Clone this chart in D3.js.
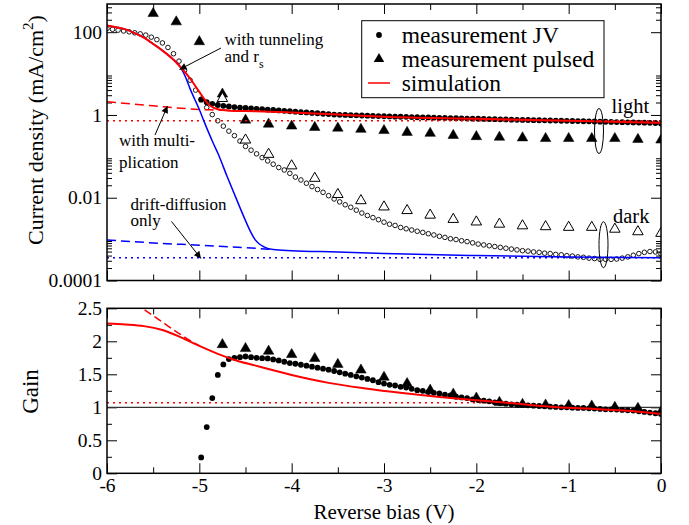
<!DOCTYPE html>
<html><head><meta charset="utf-8">
<script src="https://cdn.jsdelivr.net/npm/d3@7"></script>
<style>
body{margin:0;background:#fff}
svg{display:block}
text{font-family:"Liberation Serif","Times New Roman",serif;fill:#000}
</style>
</head><body>
<svg id="c" width="689" height="525"></svg>
<script>
// ---------- DATA ----------
// Top panel: current density (mA/cm^2) vs voltage (V)
const lightJV = [[-4.98,2.34],[-4.92,2.04],[-4.86,1.86],[-4.80,1.74],[-4.74,1.66],[-4.68,1.60],[-4.62,1.55],[-4.56,1.51],[-4.50,1.48],[-4.44,1.45],[-4.38,1.41],[-4.32,1.38],[-4.26,1.35],[-4.20,1.32],[-4.14,1.29],[-4.08,1.26],[-4.02,1.23],[-3.96,1.20],[-3.90,1.17],[-3.84,1.15],[-3.78,1.12],[-3.72,1.10],[-3.66,1.07],[-3.60,1.05],[-3.54,1.02],[-3.48,1.01],[-3.42,1.00],[-3.36,0.99],[-3.30,0.98],[-3.24,0.97],[-3.18,0.96],[-3.12,0.95],[-3.06,0.94],[-3.00,0.93],[-2.94,0.92],[-2.88,0.91],[-2.82,0.905],[-2.76,0.90],[-2.70,0.89],[-2.64,0.88],[-2.58,0.875],[-2.52,0.87],[-2.46,0.86],[-2.40,0.855],[-2.34,0.85],[-2.28,0.84],[-2.22,0.835],[-2.16,0.83],[-2.10,0.82],[-2.04,0.815],[-1.98,0.81],[-1.92,0.80],[-1.86,0.795],[-1.80,0.79],[-1.74,0.785],[-1.68,0.78],[-1.62,0.77],[-1.56,0.765],[-1.50,0.76],[-1.44,0.755],[-1.38,0.75],[-1.32,0.745],[-1.26,0.74],[-1.20,0.735],[-1.14,0.73],[-1.08,0.725],[-1.02,0.72],[-0.96,0.715],[-0.90,0.71],[-0.84,0.705],[-0.78,0.70],[-0.72,0.695],[-0.66,0.69],[-0.60,0.685],[-0.54,0.68],[-0.48,0.675],[-0.42,0.67],[-0.36,0.665],[-0.30,0.66],[-0.24,0.655],[-0.18,0.65],[-0.12,0.645],[-0.06,0.64],[0.00,0.62]];

const darkJV = [[-6.00,123],[-5.94,117.5],[-5.88,112],[-5.82,107],[-5.76,102],[-5.70,96.6],[-5.64,91.2],[-5.58,85.1],[-5.52,75.9],[-5.46,66.1],[-5.40,55.0],[-5.34,42.7],[-5.28,30.2],[-5.22,20.0],[-5.16,12.0],[-5.10,6.92],[-5.04,3.98],[-4.98,2.40],[-4.92,1.51],[-4.86,1.02],[-4.80,0.724],[-4.74,0.537],[-4.68,0.407],[-4.62,0.316],[-4.56,0.234],[-4.50,0.174],[-4.44,0.141],[-4.38,0.115],[-4.32,0.0933],[-4.26,0.0776],[-4.20,0.0646],[-4.14,0.0537],[-4.08,0.0468],[-4.02,0.0389],[-3.96,0.0316],[-3.90,0.0269],[-3.84,0.0224],[-3.78,0.0186],[-3.72,0.0158],[-3.66,0.0135],[-3.60,0.0112],[-3.54,0.00933],[-3.48,0.00794],[-3.42,0.00676],[-3.36,0.00589],[-3.30,0.00501],[-3.24,0.00427],[-3.18,0.00372],[-3.12,0.00331],[-3.06,0.00295],[-3.00,0.00257],[-2.94,0.00229],[-2.88,0.00214],[-2.82,0.00191],[-2.76,0.00178],[-2.70,0.00166],[-2.64,0.00155],[-2.58,0.00145],[-2.52,0.00135],[-2.46,0.00126],[-2.40,0.00117],[-2.34,0.00110],[-2.28,0.00102],[-2.22,0.000977],[-2.16,0.000912],[-2.10,0.000871],[-2.04,0.000813],[-1.98,0.000759],[-1.92,0.000724],[-1.86,0.000692],[-1.80,0.000661],[-1.74,0.000631],[-1.68,0.000603],[-1.62,0.000575],[-1.56,0.000550],[-1.50,0.000525],[-1.44,0.000513],[-1.38,0.000490],[-1.32,0.000479],[-1.26,0.000457],[-1.20,0.000447],[-1.14,0.000427],[-1.08,0.000417],[-1.02,0.000398],[-0.96,0.000389],[-0.90,0.000372],[-0.84,0.000363],[-0.78,0.000347],[-0.72,0.000339],[-0.66,0.000324],[-0.60,0.000324],[-0.54,0.000324],[-0.48,0.000331],[-0.42,0.000347],[-0.36,0.000372],[-0.30,0.000407],[-0.24,0.000447],[-0.18,0.000479],[-0.12,0.000501],[-0.06,0.000490],[0.00,0.000437]];

const lightPulsed = [[-5.5,283],[-5.25,178],[-5.0,59],[-4.75,3.2],[-4.5,0.75],[-4.25,0.60],[-4.0,0.54],[-3.75,0.50],[-3.5,0.48],[-3.25,0.45],[-3.0,0.42],[-2.75,0.38],[-2.5,0.36],[-2.25,0.32],[-2.0,0.30],[-1.75,0.29],[-1.5,0.28],[-1.25,0.27],[-1.0,0.27],[-0.75,0.27],[-0.5,0.27],[-0.25,0.257],[0.0,0.248]];

const darkPulsed = [[-4.75,2.5],[-4.5,0.248],[-4.25,0.112],[-4.0,0.059],[-3.75,0.0295],[-3.5,0.012],[-3.25,0.0085],[-3.0,0.0060],[-2.75,0.0049],[-2.5,0.0038],[-2.25,0.0030],[-2.0,0.0026],[-1.75,0.0023],[-1.5,0.0021],[-1.25,0.0020],[-1.0,0.00193],[-0.75,0.00193],[-0.5,0.00174],[-0.25,0.00151],[0.0,0.00138]];

// simulations (top panel)
const simLight = [[-6.0,145],[-5.9,132],[-5.8,117],[-5.7,95],[-5.6,74],[-5.5,52],[-5.4,36],[-5.3,23.7],[-5.2,14],[-5.1,7.6],[-5.0,3.6],[-4.95,2.5],[-4.9,1.8],[-4.85,1.5],[-4.8,1.38],[-4.7,1.29],[-4.5,1.245],[-4.3,1.22],[-4.0,1.15],[-3.5,1.02],[-3.0,0.91],[-2.0,0.81],[-1.0,0.72],[0.0,0.645]];
const simLightMultOnly = [[-6.0,2.09],[-5.5,1.66],[-5.0,1.36],[-4.8,1.31],[-4.6,1.26],[-4.5,1.245]];
const simLightDD = [[-6.0,0.72],[0.0,0.72]];
const simDark = [[-6.0,145],[-5.9,132],[-5.8,117],[-5.7,95],[-5.6,74],[-5.5,52],[-5.4,36],[-5.3,23.7],[-5.2,14],[-5.15,8.3],[-5.1,4.27],[-5.05,2.4],[-5.0,1.35],[-4.95,0.71],[-4.9,0.38],[-4.85,0.21],[-4.8,0.12],[-4.7,0.033],[-4.6,0.0095],[-4.5,0.0028],[-4.45,0.00158],[-4.4,0.001],[-4.35,0.00076],[-4.3,0.00065],[-4.2,0.00056],[-4.0,0.000525],[-3.5,0.00049],[-3.0,0.000447],[-2.0,0.0004],[-1.0,0.00037],[0.0,0.000355]];
const simDarkMultOnly = [[-6.0,0.00095],[-5.5,0.00081],[-5.0,0.00071],[-4.5,0.00062],[-4.2,0.00056]];
const simDarkDD = [[-6.0,0.000355],[0.0,0.000355]];

// Bottom panel: gain
const gainJV = [[-4.98,0.24],[-4.92,0.70],[-4.86,1.14],[-4.80,1.49],[-4.74,1.65],[-4.68,1.73],[-4.62,1.75],[-4.56,1.76],[-4.50,1.77],[-4.44,1.76],[-4.38,1.75],[-4.32,1.745],[-4.26,1.74],[-4.20,1.725],[-4.14,1.71],[-4.08,1.69],[-4.02,1.67],[-3.96,1.66],[-3.90,1.645],[-3.84,1.63],[-3.78,1.615],[-3.72,1.60],[-3.66,1.585],[-3.60,1.57],[-3.54,1.55],[-3.48,1.53],[-3.42,1.51],[-3.36,1.49],[-3.30,1.47],[-3.24,1.45],[-3.18,1.43],[-3.12,1.41],[-3.06,1.38],[-3.00,1.36],[-2.94,1.34],[-2.88,1.33],[-2.82,1.31],[-2.76,1.30],[-2.70,1.28],[-2.64,1.26],[-2.58,1.25],[-2.52,1.23],[-2.46,1.22],[-2.40,1.21],[-2.34,1.19],[-2.28,1.18],[-2.22,1.16],[-2.16,1.15],[-2.10,1.14],[-2.04,1.12],[-1.98,1.11],[-1.92,1.10],[-1.86,1.09],[-1.80,1.075],[-1.74,1.065],[-1.68,1.055],[-1.62,1.045],[-1.56,1.04],[-1.50,1.035],[-1.44,1.03],[-1.38,1.025],[-1.32,1.02],[-1.26,1.015],[-1.20,1.01],[-1.14,1.005],[-1.08,1.0],[-1.02,1.0],[-0.96,0.995],[-0.90,0.99],[-0.84,0.99],[-0.78,0.985],[-0.72,0.98],[-0.66,0.975],[-0.60,0.97],[-0.54,0.97],[-0.48,0.965],[-0.42,0.96],[-0.36,0.955],[-0.30,0.95],[-0.24,0.94],[-0.18,0.93],[-0.12,0.92],[-0.06,0.91],[0.00,0.90]];
const gainPulsed = [[-4.75,1.95],[-4.5,1.89],[-4.25,1.85],[-4.0,1.80],[-3.75,1.74],[-3.5,1.65],[-3.25,1.565],[-3.0,1.455],[-2.75,1.36],[-2.5,1.26],[-2.25,1.20],[-2.0,1.14],[-1.75,1.075],[-1.5,1.045],[-1.25,1.035],[-1.0,1.025],[-0.75,1.02],[-0.5,1.0],[-0.25,0.985],[0.0,0.93]];
const gainSim = [[-6.0,2.27],[-5.8,2.255],[-5.6,2.23],[-5.4,2.17],[-5.2,2.06],[-5.0,1.93],[-4.8,1.81],[-4.6,1.71],[-4.4,1.635],[-4.2,1.56],[-4.0,1.49],[-3.6,1.37],[-3.2,1.285],[-2.8,1.215],[-2.4,1.155],[-2.0,1.105],[-1.6,1.06],[-1.2,1.01],[-0.8,0.98],[-0.4,0.95],[0.0,0.90]];
const gainSimMultOnly = [[-5.7,2.58],[-5.4,2.29],[-5.2,2.10],[-5.1,2.01],[-5.0,1.935]];
const gainSimDD = [[-6.0,1.07],[-1.6,1.07]];
const gainUnity = [[-6.0,1.0],[0.0,1.0]];

// ticks and labels
const xMajor = [-6,-5,-4,-3,-2,-1,0];
const xMinor = [-5.5,-4.5,-3.5,-2.5,-1.5,-0.5];
const jMajor = [1e-4,1e-2,1,100];
const jMajorLabels = ["0.0001","0.01","1","100"];
const gMajor = [0,0.5,1,1.5,2,2.5];
const gMinor = [0.25,0.75,1.25,1.75,2.25];
const legendLabels = ["measurement JV","measurement pulsed","simulation"];

// ---------- CHART ----------
(function(){
const svg = d3.select("#c");
const X0 = 107, X1 = 661;
const T0 = 4, T1 = 280.5, B0 = 308.3, B1 = 473.3;
const x = d3.scaleLinear().domain([-6,0]).range([X0,X1]);
const yJ = d3.scaleLog().domain([1e-4,480]).range([T1,T0]);
const yG = d3.scaleLinear().domain([0,2.5]).range([B1,B0]);
const RED = "#ff0000", BLUE = "#0000ff";

const jMinor = [];
jMajor.forEach(m => { for (let k=2;k<=9;k++){ const v=k*m; if (v<480) jMinor.push(v);} });

const defs = svg.append("defs");
defs.append("clipPath").attr("id","clipT").append("rect").attr("x",X0).attr("y",T0).attr("width",X1-X0).attr("height",T1-T0);
defs.append("clipPath").attr("id","clipB").append("rect").attr("x",X0).attr("y",B0).attr("width",X1-X0).attr("height",B1-B0);
defs.append("marker").attr("id","arr").attr("viewBox","0 0 10 10").attr("refX",10).attr("refY",5)
  .attr("markerUnits","userSpaceOnUse").attr("markerWidth",9).attr("markerHeight",7).attr("orient","auto")
  .append("path").attr("d","M0,0L10,5L0,10z").attr("fill","#000");

function style(g, size){
  g.attr("font-size",size).attr("font-family","Liberation Serif");
  g.select(".domain").remove();
  g.selectAll(".tick line").attr("stroke","#000").attr("stroke-width",1);
}

function xAxes(yb, yt, labels){
  svg.append("g").attr("transform",`translate(0,${yb})`)
    .call(d3.axisBottom(x).tickValues(xMajor).tickSize(-10).tickPadding(5).tickFormat(labels ? (d=>String(d)) : ""))
    .call(g=>style(g,19.5));
  svg.append("g").attr("transform",`translate(0,${yb})`)
    .call(d3.axisBottom(x).tickValues(xMinor).tickSize(-6).tickFormat("")).call(g=>style(g,19.5));
  svg.append("g").attr("transform",`translate(0,${yt})`)
    .call(d3.axisTop(x).tickValues(xMajor).tickSize(-10).tickFormat("")).call(g=>style(g,19.5));
  svg.append("g").attr("transform",`translate(0,${yt})`)
    .call(d3.axisTop(x).tickValues(xMinor).tickSize(-6).tickFormat("")).call(g=>style(g,19.5));
}
xAxes(T1, T0, false);
xAxes(B1, B0, true);

svg.append("g").attr("transform",`translate(${X0},0)`)
  .call(d3.axisLeft(yJ).tickValues(jMajor).tickSize(-10).tickPadding(5).tickFormat((d,i)=>jMajorLabels[i]))
  .call(g=>style(g,19.5));
svg.append("g").attr("transform",`translate(${X0},0)`)
  .call(d3.axisLeft(yJ).tickValues(jMinor).tickSize(-5).tickFormat("")).call(g=>style(g,19.5));
svg.append("g").attr("transform",`translate(${X1},0)`)
  .call(d3.axisRight(yJ).tickValues(jMajor).tickSize(-10).tickFormat("")).call(g=>style(g,19.5));
svg.append("g").attr("transform",`translate(${X1},0)`)
  .call(d3.axisRight(yJ).tickValues(jMinor).tickSize(-5).tickFormat("")).call(g=>style(g,19.5));
svg.append("g").attr("transform",`translate(${X0},0)`)
  .call(d3.axisLeft(yG).tickValues(gMajor).tickSize(-10).tickPadding(5).tickFormat(d=>String(d)))
  .call(g=>style(g,19.5));
svg.append("g").attr("transform",`translate(${X0},0)`)
  .call(d3.axisLeft(yG).tickValues(gMinor).tickSize(-5).tickFormat("")).call(g=>style(g,19.5));
svg.append("g").attr("transform",`translate(${X1},0)`)
  .call(d3.axisRight(yG).tickValues(gMajor).tickSize(-10).tickFormat("")).call(g=>style(g,19.5));
svg.append("g").attr("transform",`translate(${X1},0)`)
  .call(d3.axisRight(yG).tickValues(gMinor).tickSize(-5).tickFormat("")).call(g=>style(g,19.5));

const gTop = svg.append("g").attr("clip-path","url(#clipT)");
const gBot = svg.append("g").attr("clip-path","url(#clipB)");

const triSym = d3.symbol().type(d3.symbolTriangle).size(48);

function filledCircles(g, data, y){
  g.append("g").selectAll("circle").data(data).join("circle")
    .attr("cx",d=>x(d[0])).attr("cy",d=>y(d[1])).attr("r",2.9).attr("fill","#000");
}
function openCircles(g, data, y){
  g.append("g").selectAll("circle").data(data).join("circle")
    .attr("cx",d=>x(d[0])).attr("cy",d=>y(d[1])).attr("r",2.3).attr("fill","none").attr("stroke","#000").attr("stroke-width",0.9);
}
function tris(g, data, y, open){
  g.append("g").selectAll("path").data(data).join("path")
    .attr("transform",d=>`translate(${x(d[0])},${y(d[1])})`).attr("d",triSym)
    .attr("fill",open?"#fff":"#000").attr("stroke","#000").attr("stroke-width",open?1:0.5);
}
function curve(g, data, y, color, w, dash){
  const ln = d3.line().x(d=>x(d[0])).y(d=>y(d[1])).curve(d3.curveMonotoneX);
  g.append("path").datum(data).attr("d",ln).attr("fill","none").attr("stroke",color)
    .attr("stroke-width",w).attr("stroke-dasharray",dash||null);
}

filledCircles(gTop, lightJV, yJ);
openCircles(gTop, darkJV, yJ);
tris(gTop, lightPulsed, yJ, false);
tris(gTop, darkPulsed, yJ, true);
curve(gTop, simLightDD, yJ, RED, 1.5, "2,4");
curve(gTop, simDarkDD, yJ, BLUE, 1.5, "2,4");
curve(gTop, simLightMultOnly, yJ, RED, 1.5, "9,5");
curve(gTop, simDarkMultOnly, yJ, BLUE, 1.5, "9,5");
curve(gTop, simDark, yJ, BLUE, 1.5);
curve(gTop, simLight, yJ, RED, 2);

curve(gBot, gainUnity, yG, "#333", 1.2);
curve(gBot, gainSimDD, yG, RED, 1.5, "2,4");
filledCircles(gBot, gainJV, yG);
tris(gBot, gainPulsed, yG, false);
curve(gBot, gainSimMultOnly, yG, RED, 1.5, "8,4");
curve(gBot, gainSim, yG, RED, 2);

svg.append("rect").attr("x",X0).attr("y",T0).attr("width",X1-X0).attr("height",T1-T0).attr("fill","none").attr("stroke","#000").attr("stroke-width",1.5);
svg.append("rect").attr("x",X0).attr("y",B0).attr("width",X1-X0).attr("height",B1-B0).attr("fill","none").attr("stroke","#000").attr("stroke-width",1.5);

const lg = svg.append("g");
lg.append("rect").attr("x",361.7).attr("y",20.7).attr("width",242.3).attr("height",77).attr("fill","#fff").attr("stroke","#000").attr("stroke-width",1);
const rows = [35,59,83];
lg.append("circle").attr("cx",379).attr("cy",rows[0]).attr("r",2.9).attr("fill","#000");
lg.append("path").attr("transform",`translate(379,${rows[1]})`).attr("d",triSym).attr("fill","#000");
lg.append("line").attr("x1",368).attr("x2",390).attr("y1",rows[2]).attr("y2",rows[2]).attr("stroke",RED).attr("stroke-width",1.5);
legendLabels.forEach((t,i)=>{
  lg.append("text").attr("x",401.7).attr("y",rows[i]).attr("dy","0.33em").attr("font-size",23.5).text(t);
});

function txt(xp, yp, s, size){ return svg.append("text").attr("x",xp).attr("y",yp).attr("font-size",size).text(s); }
txt(224.5,45,"with tunneling",17);
const t2 = txt(224.5,62,"and r",17);
t2.append("tspan").attr("font-size",12).attr("dy",6).text("s");
txt(119,146,"with multi-",17);
txt(119,168,"plication",17);
txt(130.5,209.5,"drift-diffusion",17);
txt(130.5,226,"only",17);
txt(611.5,112.5,"light",20.5);
txt(613,223,"dark",20.5);

function arrow(x1,y1,x2,y2){
  svg.append("line").attr("x1",x1).attr("y1",y1).attr("x2",x2).attr("y2",y2)
    .attr("stroke","#000").attr("stroke-width",1).attr("marker-end","url(#arr)");
}
arrow(221,48,179.5,69.5);
arrow(155,135,167.5,106);
arrow(171.5,221.5,201,258.5);

svg.append("ellipse").attr("cx",599).attr("cy",131).attr("rx",4.5).attr("ry",22.5).attr("fill","none").attr("stroke","#000").attr("stroke-width",1);
svg.append("ellipse").attr("cx",603.5).attr("cy",244.7).attr("rx",4.5).attr("ry",23).attr("fill","none").attr("stroke","#000").attr("stroke-width",1);

const yt = svg.append("text").attr("transform","translate(42.5,130) rotate(-90)").attr("text-anchor","middle").attr("font-size",22);
yt.append("tspan").text("Current density (mA/cm");
yt.append("tspan").attr("font-size",15).attr("dy",-10).text("2");
yt.append("tspan").attr("dy",10).text(")");
svg.append("text").attr("transform","translate(38,391.5) rotate(-90)").attr("text-anchor","middle").attr("font-size",23).text("Gain");
svg.append("text").attr("x",384).attr("y",519).attr("text-anchor","middle").attr("font-size",21).text("Reverse bias (V)");
})();
</script>
</body></html>
